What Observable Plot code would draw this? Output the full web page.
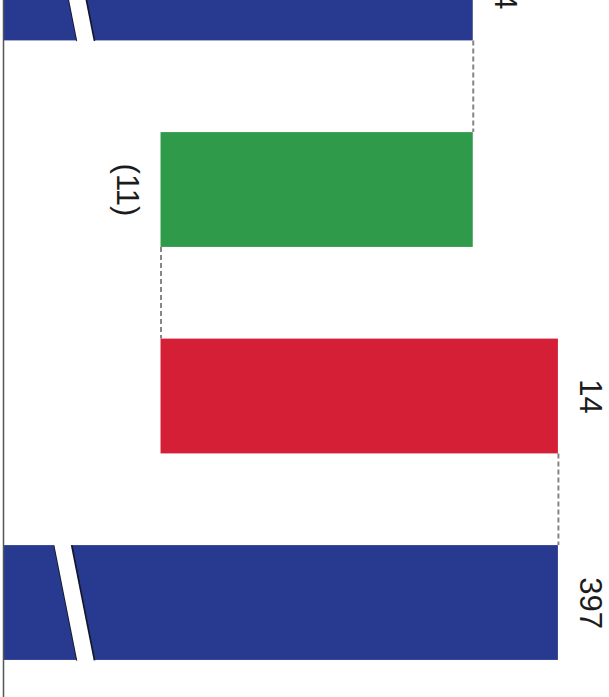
<!DOCTYPE html>
<html>
<head>
<meta charset="utf-8">
<script src="https://cdn.jsdelivr.net/npm/d3@7"></script>
<script src="https://cdn.jsdelivr.net/npm/@observablehq/plot@0.6"></script>
<style>
  html, body { margin: 0; padding: 0; background: #fff; }
  #chart { width: 609px; height: 697px; overflow: hidden; }
</style>
</head>
<body>
<div id="chart"></div>
<script>
// Waterfall steps, drawn sideways (first step at the top)
const categories = ["Opening", "Decrease", "Increase", "Closing"];
const values = [394, -11, 14, 397];
const labels = ["394", "(11)", "14", "397"];
const kinds = ["total", "decrease", "increase", "total"];

// Value axis starts above zero; totals carry a break mark
const axisStart = 377.45;
const axisEnd = 398.8;
const breakAt = 379.95;     // centre of the break stripe
const breakGap = 0.29;      // half width of the stripe
const breakSlant = 0.4;     // horizontal drift from bar centre to bar edge

const colors = {total: "#283a8f", decrease: "#2f9a4a", increase: "#d51f36"};
const half = 0.278;         // half bar thickness in step units

// Build running totals
let running = 0;
const rows = categories.map((c, i) => {
  const k = kinds[i];
  let x1, x2, end;
  if (k === "total") {
    x1 = axisStart; x2 = values[i]; end = values[i];
  } else {
    x1 = running; x2 = running + values[i]; end = running + values[i];
  }
  running = end;
  return {
    i, category: c, kind: k, label: labels[i],
    x1: Math.min(x1, x2), x2: Math.max(x1, x2), end,
    labelX: k === "decrease" ? Math.min(x1, x2) : Math.max(x1, x2)
  };
});

const connectors = rows.slice(0, -1).map((r, j) => ({
  x: r.end, y1: r.i + half, y2: rows[j + 1].i - half
}));

// Break stripe: a white parallelogram across each total bar, outlined on both sides
const totals = rows.filter(r => r.kind === "total");
const ext = 0.03;
const drift = ext * breakSlant / half;
const breaks = totals.flatMap(r => [
  {z: r.i, y: r.i - half - ext, x1: breakAt - breakSlant - drift - breakGap, x2: breakAt - breakSlant - drift + breakGap},
  {z: r.i, y: r.i + half + ext, x1: breakAt + breakSlant + drift - breakGap, x2: breakAt + breakSlant + drift + breakGap}
]);
const breakEdges = totals.flatMap(r => [-1, 1].map(s => ({
  x1: breakAt - breakSlant + s * breakGap, x2: breakAt + breakSlant + s * breakGap,
  y1: r.i - half, y2: r.i + half
})));

const font = "Liberation Sans, Arial, sans-serif";

const chart = Plot.plot({
  width: 609,
  height: 697,
  marginLeft: 3,
  marginRight: 0,
  marginTop: 0,
  marginBottom: 0,
  x: {domain: [axisStart, axisEnd], axis: null},
  y: {type: "linear", domain: [0.0823, 3.4576], range: [0, 697], axis: null},
  style: {background: "#fff"},
  marks: [
    Plot.rectX(rows, {
      x1: "x1", x2: "x2",
      y1: d => d.i - half, y2: d => d.i + half,
      fill: d => colors[d.kind], clip: true
    }),
    Plot.ruleX(connectors, {
      x: "x", y1: "y1", y2: "y2",
      stroke: "#858585", strokeWidth: 2, strokeDasharray: "5,3"
    }),
    Plot.link(breakEdges, {
      x1: "x1", x2: "x2", y1: "y1", y2: "y2",
      stroke: "#14162a", strokeWidth: 2.6, clip: true
    }),
    Plot.areaX(breaks, {x1: "x1", x2: "x2", y: "y", z: "z", fill: "#fff", clip: true}),
    Plot.ruleX([axisStart], {stroke: "#555", strokeWidth: 1.5}),
    Plot.text(rows.filter(d => d.kind !== "decrease"), {
      x: "labelX", y: "i", text: "label", dx: 32,
      rotate: 90, fontSize: 31, fontFamily: font,
      fill: "#1c1c1c", textAnchor: "middle", lineAnchor: "middle", clip: true
    }),
    Plot.text(rows.filter(d => d.kind === "decrease"), {
      x: "labelX", y: "i", text: "label", dx: -34,
      rotate: 90, fontSize: 31, fontFamily: font,
      fill: "#1c1c1c", textAnchor: "middle", lineAnchor: "middle", clip: true
    })
  ]
});
document.getElementById("chart").appendChild(chart);
</script>
</body>
</html>
